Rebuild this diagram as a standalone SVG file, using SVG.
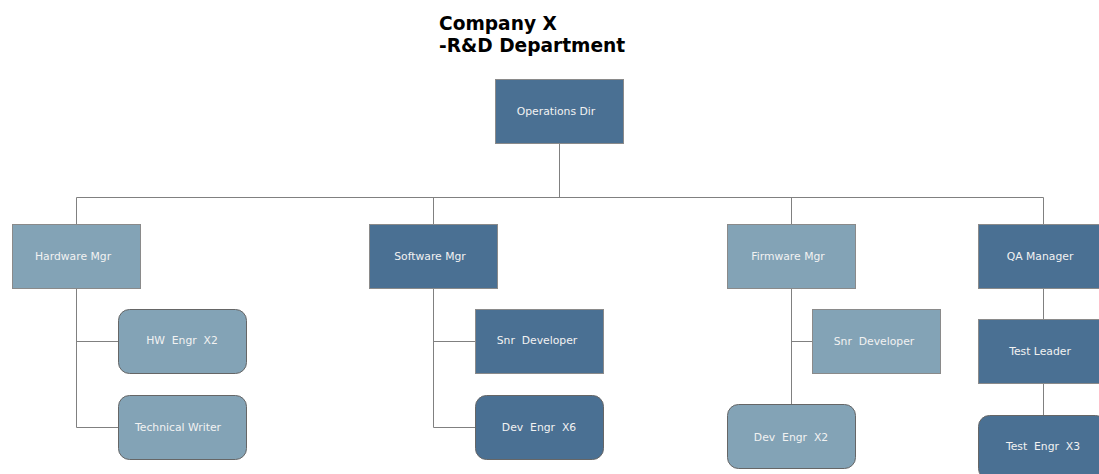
<svg xmlns="http://www.w3.org/2000/svg" width="1099" height="474" viewBox="0 0 1099 474">
  <style>
    .dark { fill: #4a7093; stroke: #8a8a8a; stroke-width: 1; }
    .light { fill: #83a3b6; stroke: #8a8a8a; stroke-width: 1; }
    .round { stroke: #666666; }
    .lbl { font-family: "DejaVu Sans", Verdana, sans-serif; font-size: 10.8px; fill: #f2f2f2; text-anchor: middle; white-space: pre; }
    .title { font-family: "DejaVu Sans", Verdana, sans-serif; font-size: 18.6px; font-weight: bold; fill: #000000; }
    .conn { stroke: #808080; stroke-width: 1; fill: none; }
  </style>
  <rect width="1099" height="474" fill="#ffffff"/>

  <text class="title" x="439" y="30">Company X</text>
  <text class="title" x="439" y="52">-R&amp;D Department</text>

  <g id="connectors">
    <path class="conn" d="M559.5 143 V197.5 M76.5 197.5 H1043.5 M76.5 197.5 V224 M433.5 197.5 V224 M791.5 197.5 V224 M1043.5 197.5 V224"/>
    <path class="conn" d="M76.5 288 V427.5 M76.5 341.5 H118 M76.5 427.5 H118"/>
    <path class="conn" d="M433.5 288 V427.5 M433.5 341.5 H475 M433.5 427.5 H475"/>
    <path class="conn" d="M791.5 288 V404 M791.5 341.5 H812"/>
    <path class="conn" d="M1043.5 288 V319 M1043.5 383 V415"/>
  </g>

  <g id="operations-dir">
    <rect class="dark" x="495.5" y="79.5" width="128" height="64"/>
    <text class="lbl" x="556" y="115">Operations Dir</text>
  </g>

  <g id="hardware-mgr">
    <rect class="light" x="12.5" y="224.5" width="128" height="64"/>
    <text class="lbl" x="73" y="260">Hardware Mgr</text>
  </g>
  <g id="hw-engr">
    <rect class="light round" x="118.5" y="309.5" width="128" height="64" rx="11"/>
    <text class="lbl" x="182" y="344">HW  Engr  X2</text>
  </g>
  <g id="technical-writer">
    <rect class="light round" x="118.5" y="395.5" width="128" height="64" rx="11"/>
    <text class="lbl" x="178" y="431">Technical Writer</text>
  </g>

  <g id="software-mgr">
    <rect class="dark" x="369.5" y="224.5" width="128" height="64"/>
    <text class="lbl" x="430" y="260">Software Mgr</text>
  </g>
  <g id="sw-snr-developer">
    <rect class="dark" x="475.5" y="309.5" width="128" height="64"/>
    <text class="lbl" x="537" y="344">Snr  Developer</text>
  </g>
  <g id="sw-dev-engr">
    <rect class="dark round" x="475.5" y="395.5" width="128" height="64" rx="11"/>
    <text class="lbl" x="539" y="431">Dev  Engr  X6</text>
  </g>

  <g id="firmware-mgr">
    <rect class="light" x="727.5" y="224.5" width="128" height="64"/>
    <text class="lbl" x="788" y="260">Firmware Mgr</text>
  </g>
  <g id="fw-snr-developer">
    <rect class="light" x="812.5" y="309.5" width="128" height="64"/>
    <text class="lbl" x="874" y="345">Snr  Developer</text>
  </g>
  <g id="fw-dev-engr">
    <rect class="light round" x="727.5" y="404.5" width="128" height="64" rx="11"/>
    <text class="lbl" x="791" y="441">Dev  Engr  X2</text>
  </g>

  <g id="qa-manager">
    <rect class="dark" x="978.5" y="224.5" width="128" height="64"/>
    <text class="lbl" x="1040" y="260">QA Manager</text>
  </g>
  <g id="test-leader">
    <rect class="dark" x="978.5" y="319.5" width="128" height="64"/>
    <text class="lbl" x="1040" y="355">Test Leader</text>
  </g>
  <g id="test-engr">
    <rect class="dark round" x="978.5" y="415.5" width="128" height="64" rx="11"/>
    <text class="lbl" x="1043" y="450">Test  Engr  X3</text>
  </g>
</svg>
